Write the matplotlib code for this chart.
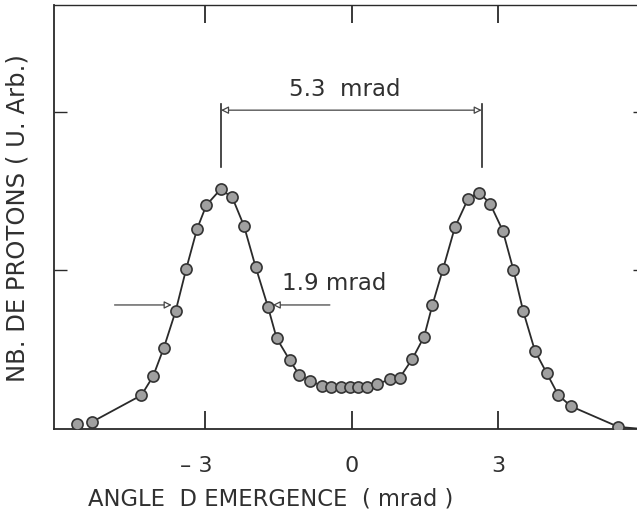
import numpy as np
import matplotlib
matplotlib.use('Agg')
import matplotlib.pyplot as plt
from matplotlib.transforms import ScaledTranslation

plt.rcParams['font.family'] = ['DejaVu Sans']

# emergence angle (mrad) and proton counts (arb. units)
angle = [-5.63, -5.33, -4.31, -4.07, -3.85, -3.61, -3.39, -3.17, -2.98, -2.69,
         -2.45, -2.21, -1.97, -1.72, -1.54, -1.27, -1.08, -0.85, -0.62, -0.42,
         -0.23, -0.04, 0.13, 0.31, 0.51, 0.78, 0.98, 1.24, 1.48, 1.65,
         1.87, 2.11, 2.38, 2.61, 2.83, 3.09, 3.31, 3.51, 3.75, 3.99,
         4.23, 4.49, 5.46]
counts = [0.03, 0.04, 0.21, 0.33, 0.51, 0.74, 1.01, 1.26, 1.41, 1.51,
          1.46, 1.28, 1.02, 0.77, 0.57, 0.43, 0.34, 0.30, 0.27, 0.26,
          0.26, 0.26, 0.26, 0.26, 0.28, 0.31, 0.32, 0.44, 0.58, 0.78,
          1.01, 1.27, 1.45, 1.49, 1.42, 1.25, 1.00, 0.74, 0.49, 0.35,
          0.21, 0.14, 0.01]

# tail of the drawn curve past the last point
tail_x = [5.84]
tail_y = [0.0]

xticks = [-3, 0, 3]
xticklabels = ['\u2013 3', '0', '3']
yticks = [1, 2]

peak_l, peak_r = -2.68, 2.66
fwhm_y = 0.78

fig = plt.figure(figsize=(6.37, 5.16), dpi=100)
ax = fig.add_axes([54/637, 1 - 428.5/516, 1 - 54/637, 423.5/516])

ink = '#2a2a2a'
txt = '#303030'
ax.plot(angle[1:] + tail_x, counts[1:] + tail_y, color=ink, lw=1.3, zorder=2)
ax.plot(angle, counts, ls='none', marker='o', ms=8, mfc='#a0a0a0', mec='#333333',
        mew=1.2, zorder=3)

ax.set_xlim(-6.1, 5.84)
ax.set_ylim(0, 2.674)

for s in ['top', 'left', 'bottom']:
    ax.spines[s].set_color(ink)
    ax.spines[s].set_linewidth(1.3)
ax.spines['top'].set_linewidth(1.0)
ax.spines['right'].set_visible(False)

ax.set_xticks(xticks)
ax.set_xticklabels(xticklabels)
ax.set_yticks(yticks)
ax.tick_params(axis='x', direction='in', length=13, width=1.3, color=ink,
               top=True, bottom=True, pad=20, labelsize=16, labelcolor=txt)
ax.tick_params(axis='y', direction='in', length=9, width=1.0, color=ink,
               left=True, right=True, labelleft=False)
for t in ax.yaxis.get_major_ticks():
    t.tick2line.set_markersize(3)

# keep the digit of "-3" centred on its tick
lab = ax.get_xticklabels()[0]
lab.set_transform(lab.get_transform() + ScaledTranslation(-0.09, 0, fig.dpi_scale_trans))

# 5.3 mrad peak separation
for px in [peak_l, peak_r]:
    ax.plot([px, px], [1.65, 2.05], color=ink, lw=1.2)
ax.annotate('', xy=(peak_l, 2.01), xytext=(peak_r, 2.01),
            arrowprops=dict(arrowstyle='<|-|>', color='#444444', lw=0.9,
                            mutation_scale=11, fc='white', shrinkA=0, shrinkB=0))
ax.text(-0.15, 2.14, '5.3  mrad', ha='center', va='center', fontsize=16.5,
        color=txt)

# 1.9 mrad width arrows
ax.annotate('', xy=(-3.69, fwhm_y), xytext=(-4.86, fwhm_y),
            arrowprops=dict(arrowstyle='-|>', color='#444444', lw=0.9,
                            mutation_scale=11, fc='white', shrinkA=0, shrinkB=0))
ax.annotate('', xy=(-1.62, fwhm_y), xytext=(-0.45, fwhm_y),
            arrowprops=dict(arrowstyle='-|>', color='#444444', lw=0.9,
                            mutation_scale=11, fc='white', shrinkA=0, shrinkB=0))
ax.text(-1.43, 0.915, '1.9 mrad', ha='left', va='center', fontsize=16.5,
        color=txt)

fig.text(271/637, 1 - 499/516, 'ANGLE  D EMERGENCE  ( mrad )', ha='center',
         va='center', fontsize=16.3, color=txt)
fig.text(18/637, 1 - 218/516, 'NB. DE PROTONS ( U. Arb.)', ha='center',
         va='center', rotation=90, fontsize=17.5, color=txt)

fig.savefig('out.png', dpi=100)
